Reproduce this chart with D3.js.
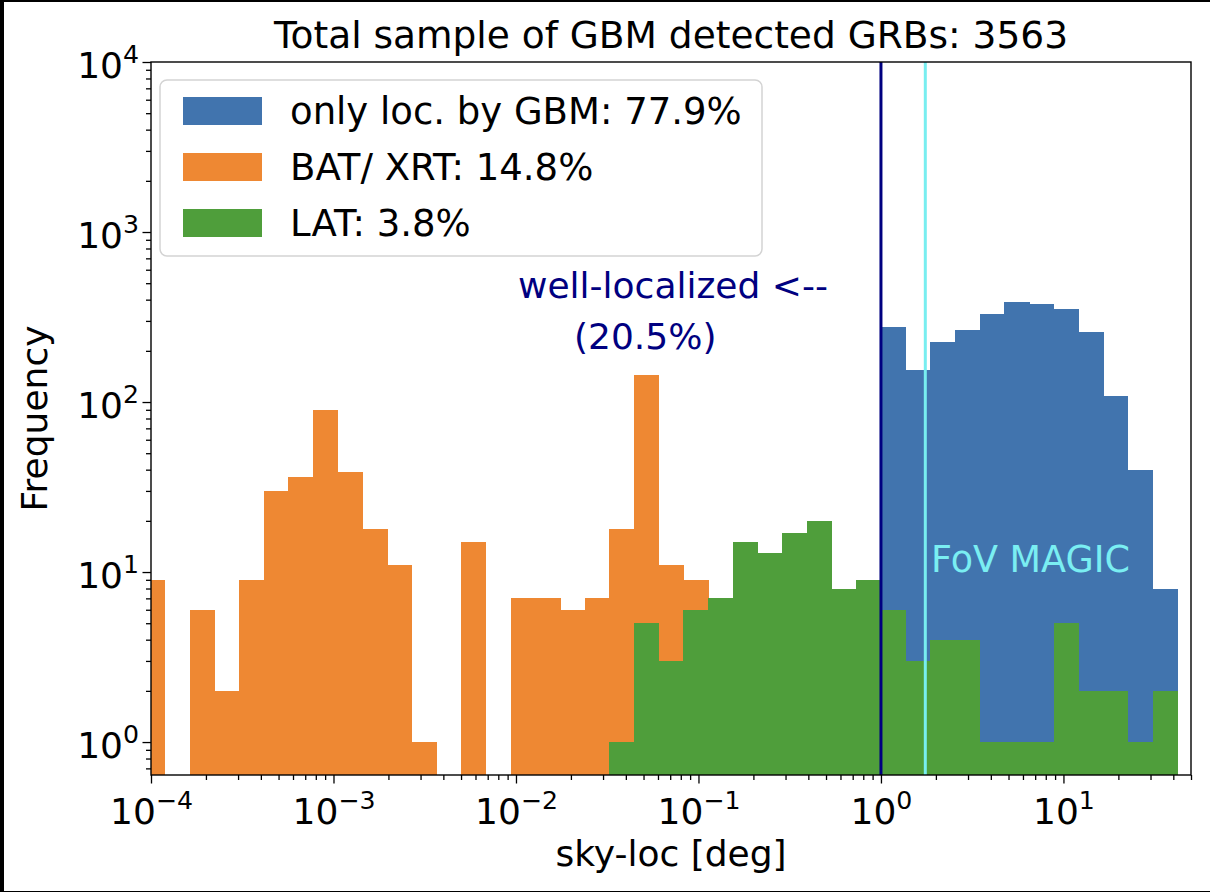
<!DOCTYPE html>
<html>
<head>
<meta charset="utf-8">
<script src="https://cdn.jsdelivr.net/npm/d3@7"></script>
<style>
  html, body { margin: 0; padding: 0; background: #fff; }
  svg { display: block; }
  text { font-family: "DejaVu Sans", sans-serif; }
</style>
</head>
<body>
<svg id="chart" width="1210" height="892"></svg>
<script>
// Log-spaced histogram bins (log10 of the first edge and bin width in decades)
const binStartLog = -4.059;
const binStepLog = 0.13531;
const binCount = 42;

// Counts per bin for each localisation class
const gbmOnlyCounts = [0,0,0,0,0,0,0,0,0,0,0,0,0,0,0,0,0,0,0,0,0,0,0,0,0,0,0,0,0,0,
  277,154,226,265,329,386,377,352,257,109,40,8];
const batXrtCounts = [9,0,6,2,9,30,36,90,39,18,11,1,0,15,0,7,7,6,7,18,144,11,9,
  0,0,0,0,0,0,0,0,0,0,0,0,0,0,0,0,0,0,0];
const latCounts = [0,0,0,0,0,0,0,0,0,0,0,0,0,0,0,0,0,0,0,
  1,5,3,6,7,15,13,17,20,8,9,6,3,4,4,1,1,1,5,2,2,1,2];

const seriesNames = ["only loc. by GBM: 77.9%", "BAT/ XRT: 14.8%", "LAT: 3.8%"];
const seriesColors = ["#4174ae", "#ee8833", "#4f9e3b"];

const xDomain = [1e-4, 50];
const yDomain = [0.64, 1e4];
const xMajorTicks = [1e-4, 1e-3, 1e-2, 1e-1, 1e0, 1e1];
const yMajorTicks = [1e0, 1e1, 1e2, 1e3, 1e4];

const titleText = "Total sample of GBM detected GRBs: 3563";
const xLabel = "sky-loc [deg]";
const yLabel = "Frequency";
const wellLocLines = ["well-localized <--", "(20.5%)"];
const wellLocLimit = 1.0;      // deg
const magicFov = 1.75;         // deg
const magicLabel = "FoV MAGIC";

const W = 1210, H = 892;
const plot = { left: 151, right: 1191, top: 62, bottom: 775 };
const FS = 36;

const svg = d3.select("#chart");

// frame of the picture
svg.append("rect").attr("width", W).attr("height", H).attr("fill", "#000");
svg.append("rect").attr("x", 4).attr("y", 2).attr("width", W - 4).attr("height", H - 3).attr("fill", "#fff");

const x = d3.scaleLog().domain(xDomain).range([plot.left, plot.right]);
const y = d3.scaleLog().domain(yDomain).range([plot.bottom, plot.top]);

svg.append("defs").append("clipPath").attr("id", "plotClip")
  .append("rect").attr("x", plot.left).attr("y", plot.top)
  .attr("width", plot.right - plot.left).attr("height", plot.bottom - plot.top);

const edges = d3.range(binCount + 1).map(i => Math.pow(10, binStartLog + i * binStepLog));

const bars = svg.append("g").attr("clip-path", "url(#plotClip)").attr("shape-rendering", "crispEdges");
[gbmOnlyCounts, batXrtCounts, latCounts].forEach((counts, si) => {
  const data = counts.map((c, i) => ({ x0: edges[i], x1: edges[i + 1], c })).filter(d => d.c > 0);
  bars.append("g").selectAll("rect").data(data).join("rect")
    .attr("x", d => x(d.x0))
    .attr("width", d => x(d.x1) - x(d.x0) + 0.5)
    .attr("y", d => y(d.c))
    .attr("height", d => plot.bottom - y(d.c))
    .attr("fill", seriesColors[si]);
});

// vertical markers
const lines = svg.append("g");
lines.append("line")
  .attr("x1", x(wellLocLimit)).attr("x2", x(wellLocLimit))
  .attr("y1", plot.top).attr("y2", plot.bottom)
  .attr("stroke", "#000080").attr("stroke-width", 3);
lines.append("line")
  .attr("x1", x(magicFov)).attr("x2", x(magicFov))
  .attr("y1", plot.top).attr("y2", plot.bottom)
  .attr("stroke", "#78eef0").attr("stroke-width", 3);

// annotations
svg.append("text").attr("x", 931).attr("y", 572)
  .attr("font-size", 36.5).attr("fill", "#7aeef2").text(magicLabel);
svg.append("text").attr("x", 518).attr("y", 298)
  .attr("font-size", FS).attr("fill", "#000080").text(wellLocLines[0]);
svg.append("text").attr("x", 574).attr("y", 349)
  .attr("font-size", FS).attr("fill", "#000080").text(wellLocLines[1]);

// axes
function minorTicks(domain) {
  const out = [];
  for (let e = Math.floor(Math.log10(domain[0])); e <= Math.ceil(Math.log10(domain[1])); e++) {
    for (let m = 2; m <= 9; m++) {
      const v = m * Math.pow(10, e);
      if (v >= domain[0] && v <= domain[1]) out.push(v);
    }
  }
  return out;
}
function powerLabel(sel) {
  sel.each(function(d) {
    const t = d3.select(this);
    const e = Math.round(Math.log10(d));
    t.text(null);
    t.append("tspan").text("10");
    t.append("tspan").attr("dy", -15).attr("font-size", FS * 0.7)
      .text(e < 0 ? "\u2212" + (-e) : String(e));
  });
}

const gxMinor = svg.append("g").attr("transform", `translate(0,${plot.bottom})`)
  .call(d3.axisBottom(x).tickValues(minorTicks(xDomain)).tickSize(5).tickFormat(() => "").tickSizeOuter(0));
const gx = svg.append("g").attr("transform", `translate(0,${plot.bottom})`)
  .call(d3.axisBottom(x).tickValues(xMajorTicks).tickSize(8.5).tickSizeOuter(0));
gx.selectAll(".tick text")
  .attr("y", 49).attr("dy", null).attr("font-size", FS).attr("fill", "#000")
  .attr("font-family", "DejaVu Sans").call(powerLabel);

const gyMinor = svg.append("g").attr("transform", `translate(${plot.left},0)`)
  .call(d3.axisLeft(y).tickValues(minorTicks(yDomain)).tickSize(5).tickFormat(() => "").tickSizeOuter(0));
const gy = svg.append("g").attr("transform", `translate(${plot.left},0)`)
  .call(d3.axisLeft(y).tickValues(yMajorTicks).tickSize(8.5).tickSizeOuter(0));
gy.selectAll(".tick text")
  .attr("x", -12).attr("dy", 15).attr("font-size", FS).attr("fill", "#000")
  .attr("font-family", "DejaVu Sans").call(powerLabel);

[gxMinor, gx, gyMinor, gy].forEach(g => {
  g.select(".domain").remove();
  g.selectAll(".tick line").attr("stroke", "#000").attr("stroke-width", 1.3);
});

// spines
svg.append("rect").attr("x", plot.left).attr("y", plot.top)
  .attr("width", plot.right - plot.left).attr("height", plot.bottom - plot.top)
  .attr("fill", "none").attr("stroke", "#000").attr("stroke-width", 1.4);

// title and axis labels
svg.append("text").attr("x", 671).attr("y", 48)
  .attr("text-anchor", "middle").attr("font-size", 37.5).text(titleText);
svg.append("text").attr("x", (plot.left + plot.right) / 2).attr("y", 866)
  .attr("text-anchor", "middle").attr("font-size", FS).text(xLabel);
svg.append("text").attr("transform", `translate(47,${(plot.top + plot.bottom) / 2}) rotate(-90)`)
  .attr("text-anchor", "middle").attr("font-size", FS).text(yLabel);

// legend
const legend = svg.append("g");
legend.append("rect").attr("x", 160).attr("y", 80).attr("width", 602).attr("height", 176)
  .attr("rx", 7).attr("fill", "#fff").attr("fill-opacity", 0.8)
  .attr("stroke", "#d3d3d3").attr("stroke-width", 1.5);
seriesNames.forEach((name, i) => {
  const cy = 111 + i * 56;
  legend.append("rect").attr("x", 183).attr("y", cy - 14).attr("width", 79).attr("height", 28)
    .attr("fill", seriesColors[i]);
  legend.append("text").attr("x", 290).attr("y", cy + 13).attr("font-size", 37).text(name);
});
</script>
</body>
</html>
